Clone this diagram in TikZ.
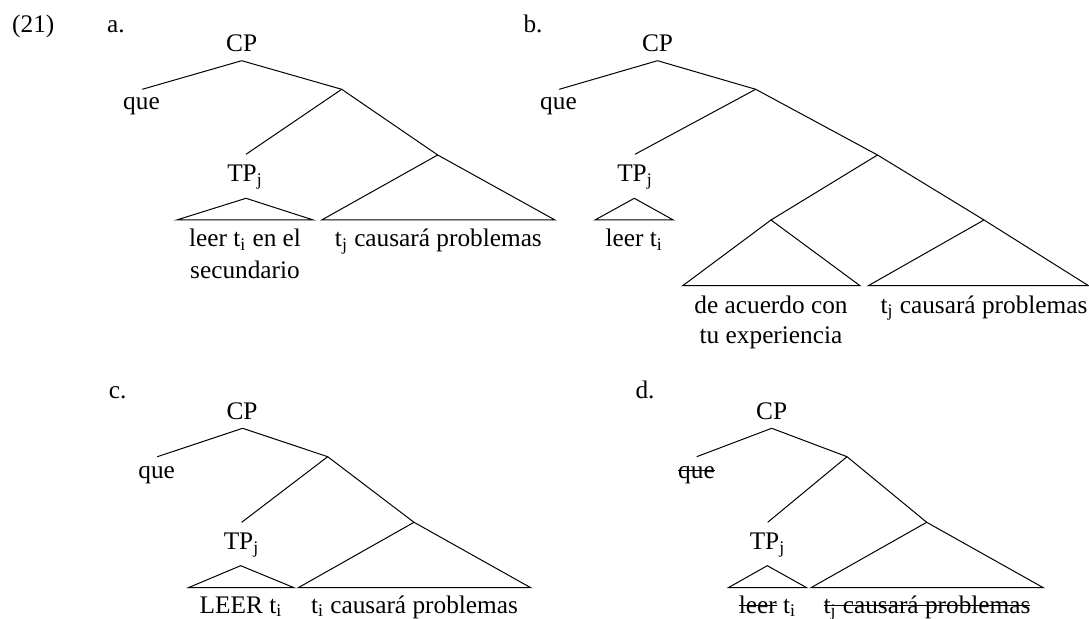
\documentclass[tikz,border=0pt]{standalone}
\usepackage{fontspec}
\setmainfont{Liberation Serif}
\newsavebox{\strikebox}
\newcommand{\struck}[1]{\sbox{\strikebox}{#1}\rlap{\rule[0.3em]{\wd\strikebox}{0.5pt}}\usebox{\strikebox}}
\tikzset{
  word/.style={anchor=base,inner sep=0pt},
  num/.style={anchor=base west,inner sep=0pt},
}
\begin{document}
\begin{tikzpicture}[x=0.5pt,y=-0.5pt,line width=0.5pt,font=\fontsize{12.65}{15}\selectfont]
      \useasboundingbox (0,0) rectangle (1089,619);
      \draw
        (11.7,33) node[num] (ex){(21)}
        (106.7,33) node[num] (la){a.}
        (523,33) node[num] (lb){b.}
        (108.3,399) node[num] (lc){c.}
        (635,399) node[num] (ld){d.};
      % a.
      \draw
        (241.7,51.7) node[word] (cpa){CP}
        (141.5,110) node[word] (quea){que}
        (245,181.7) node[word] (tpa){TP\textsubscript{j}}
        (245,246.7) node[word] (leera){leer t\textsubscript{i} en el}
        (245,278.3) node[word] (seca){secundario}
        (438.4,246.7) node[word] (causa){t\textsubscript{j} causará problemas};
      \coordinate (a0) at (241.7,60.7);
      \coordinate (a1) at (142.3,89.3);
      \coordinate (a2) at (341.7,89.3);
      \coordinate (a3) at (246,154.3);
      \coordinate (a4) at (437.7,155);
      \coordinate (a5) at (246,198.3);
      \coordinate (a6) at (176.7,220);
      \coordinate (a7) at (313.3,220);
      \coordinate (a8) at (321.7,220);
      \coordinate (a9) at (555,220);
      \begin{scope}[-]
        \draw (a0) to (a1);
        \draw (a0) to (a2);
        \draw (a2) to (a3);
        \draw (a2) to (a4);
        \draw (a5) -- (a6) -- (a7) -- cycle;
        \draw (a4) -- (a8) -- (a9) -- cycle;
      \end{scope}
      % b.
      \draw
        (657.5,51.7) node[word] (cpb){CP}
        (558.5,110) node[word] (queb){que}
        (635,181.7) node[word] (tpb){TP\textsubscript{j}}
        (634.3,246.7) node[word] (leerb){leer t\textsubscript{i}}
        (771,313.3) node[word] (acub){de acuerdo con}
        (771,344) node[word] (expb){tu experiencia}
        (984,313.3) node[word] (causb){t\textsubscript{j} causará problemas};
      \coordinate (b0) at (657.5,60.7);
      \coordinate (b1) at (559.3,89.3);
      \coordinate (b2) at (755.7,89.3);
      \coordinate (b3) at (635,154.3);
      \coordinate (b4) at (877.5,155);
      \coordinate (b5) at (634.3,198.3);
      \coordinate (b6) at (595,220);
      \coordinate (b7) at (673.3,220);
      \coordinate (b8) at (771,220);
      \coordinate (b9) at (984,220);
      \coordinate (b10) at (682.7,285.7);
      \coordinate (b11) at (860,285.7);
      \coordinate (b12) at (868.3,285.7);
      \coordinate (b13) at (1088.5,285.7);
      \begin{scope}[-]
        \draw (b0) to (b1);
        \draw (b0) to (b2);
        \draw (b2) to (b3);
        \draw (b2) to (b4);
        \draw (b4) to (b8);
        \draw (b4) to (b9);
        \draw (b5) -- (b6) -- (b7) -- cycle;
        \draw (b8) -- (b10) -- (b11) -- cycle;
        \draw (b9) -- (b12) -- (b13) -- cycle;
      \end{scope}
      % c.
      \draw
        (242,420) node[word] (cpc){CP}
        (156.7,478.3) node[word] (quec){que}
        (241.5,550) node[word] (tpc){TP\textsubscript{j}}
        (241,613.3) node[word] (leerc){LEER t\textsubscript{i}}
        (414.5,613.3) node[word] (causc){t\textsubscript{i} causará problemas};
      \coordinate (c0) at (242.7,428.3);
      \coordinate (c1) at (157.3,456.7);
      \coordinate (c2) at (327.7,456.7);
      \coordinate (c3) at (241.7,522.3);
      \coordinate (c4) at (414,522.3);
      \coordinate (c5) at (240.7,565.7);
      \coordinate (c6) at (188.3,587.7);
      \coordinate (c7) at (294,587.7);
      \coordinate (c8) at (298.3,587.7);
      \coordinate (c9) at (530.7,587.7);
      \begin{scope}[-]
        \draw (c0) to (c1);
        \draw (c0) to (c2);
        \draw (c2) to (c3);
        \draw (c2) to (c4);
        \draw (c5) -- (c6) -- (c7) -- cycle;
        \draw (c4) -- (c8) -- (c9) -- cycle;
      \end{scope}
      % d.
      \draw
        (771.7,420) node[word] (cpd){CP}
        (696.5,478.3) node[word] (qued){\struck{que}}
        (767.5,550) node[word] (tpd){TP\textsubscript{j}}
        (767.5,613.3) node[word] (leerd){\struck{leer} t\textsubscript{i}}
        (927,613.3) node[word] (causd){\struck{t\textsubscript{j} causará problemas}};
      \coordinate (d0) at (771.7,428.3);
      \coordinate (d1) at (696.7,456.7);
      \coordinate (d2) at (847,456.7);
      \coordinate (d3) at (767.7,522.3);
      \coordinate (d4) at (926.7,522.3);
      \coordinate (d5) at (767.3,565.7);
      \coordinate (d6) at (728.3,587.7);
      \coordinate (d7) at (806.7,587.7);
      \coordinate (d8) at (811,587.7);
      \coordinate (d9) at (1043.3,587.7);
      \begin{scope}[-]
        \draw (d0) to (d1);
        \draw (d0) to (d2);
        \draw (d2) to (d3);
        \draw (d2) to (d4);
        \draw (d5) -- (d6) -- (d7) -- cycle;
        \draw (d4) -- (d8) -- (d9) -- cycle;
      \end{scope}
    \end{tikzpicture}
\end{document}
